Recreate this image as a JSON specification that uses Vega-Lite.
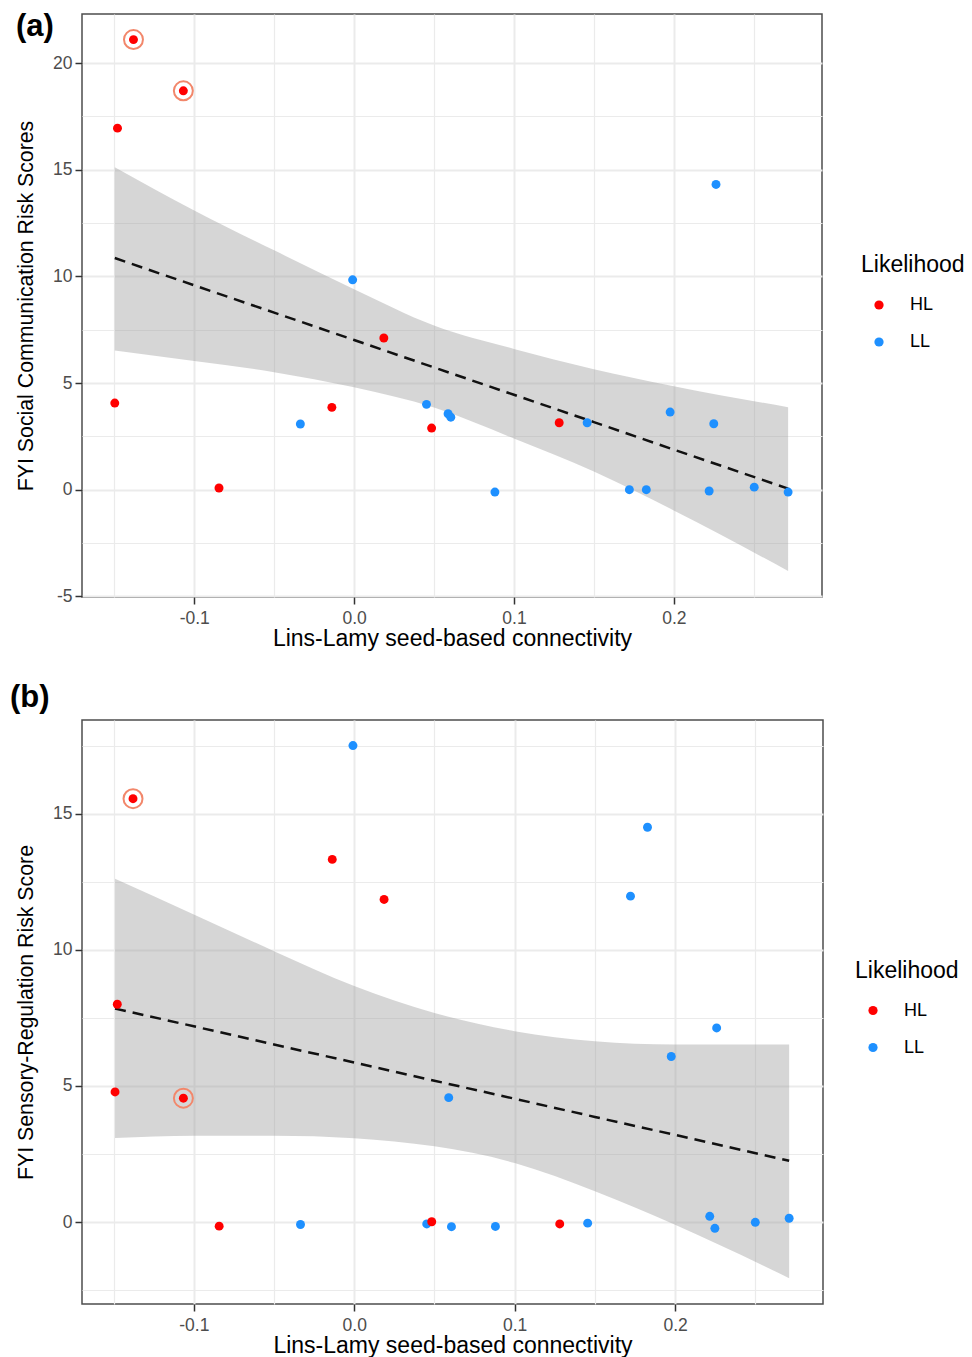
{
  "$schema": "https://vega.github.io/schema/vega-lite/v6.json",
  "padding": {"left": 9, "top": 10, "right": 10, "bottom": 0},
  "spacing": 28,
  "resolve": {"scale": {"color": "independent"}, "legend": {"color": "independent"}},
  "datasets": {
    "ptsA": [
      {"x": -0.0336, "y": 3.08, "g": "LL", "outlier": false},
      {"x": -0.0009, "y": 9.84, "g": "LL", "outlier": false},
      {"x": 0.0453, "y": 4.00, "g": "LL", "outlier": false},
      {"x": 0.0588, "y": 3.56, "g": "LL", "outlier": false},
      {"x": 0.0605, "y": 3.40, "g": "LL", "outlier": false},
      {"x": 0.0881, "y": -0.11, "g": "LL", "outlier": false},
      {"x": 0.1458, "y": 3.14, "g": "LL", "outlier": false},
      {"x": 0.1722, "y": 0.00, "g": "LL", "outlier": false},
      {"x": 0.1828, "y": 0.00, "g": "LL", "outlier": false},
      {"x": 0.1977, "y": 3.64, "g": "LL", "outlier": false},
      {"x": 0.2250, "y": 3.09, "g": "LL", "outlier": false},
      {"x": 0.2221, "y": -0.06, "g": "LL", "outlier": false},
      {"x": 0.2264, "y": 14.31, "g": "LL", "outlier": false},
      {"x": 0.2503, "y": 0.12, "g": "LL", "outlier": false},
      {"x": 0.2715, "y": -0.11, "g": "LL", "outlier": false},
      {"x": -0.1380, "y": 21.10, "g": "HL", "outlier": true},
      {"x": -0.1068, "y": 18.70, "g": "HL", "outlier": true},
      {"x": -0.1480, "y": 16.95, "g": "HL", "outlier": false},
      {"x": -0.1497, "y": 4.06, "g": "HL", "outlier": false},
      {"x": -0.0845, "y": 0.08, "g": "HL", "outlier": false},
      {"x": -0.0139, "y": 3.86, "g": "HL", "outlier": false},
      {"x": 0.0186, "y": 7.11, "g": "HL", "outlier": false},
      {"x": 0.0485, "y": 2.89, "g": "HL", "outlier": false},
      {"x": 0.1283, "y": 3.14, "g": "HL", "outlier": false}
    ],
    "bandA": [
      {"x": -0.1497, "lo": 6.53, "hi": 15.12, "fit": 10.86},
      {"x": -0.1, "lo": 6.03, "hi": 13.09, "fit": 9.58},
      {"x": -0.05, "lo": 5.51, "hi": 11.22, "fit": 8.30},
      {"x": 0.0, "lo": 4.80, "hi": 9.40, "fit": 7.02},
      {"x": 0.05, "lo": 3.85, "hi": 7.70, "fit": 5.73},
      {"x": 0.1, "lo": 2.40, "hi": 6.60, "fit": 4.45},
      {"x": 0.15, "lo": 0.85, "hi": 5.65, "fit": 3.17},
      {"x": 0.2, "lo": -0.97, "hi": 4.85, "fit": 1.88},
      {"x": 0.2715, "lo": -3.81, "hi": 3.87, "fit": 0.05}
    ],
    "ptsB": [
      {"x": -0.0008, "y": 17.50, "g": "LL", "outlier": false},
      {"x": 0.1828, "y": 14.50, "g": "LL", "outlier": false},
      {"x": 0.1722, "y": 11.97, "g": "LL", "outlier": false},
      {"x": 0.2259, "y": 7.13, "g": "LL", "outlier": false},
      {"x": 0.1976, "y": 6.08, "g": "LL", "outlier": false},
      {"x": 0.0589, "y": 4.57, "g": "LL", "outlier": false},
      {"x": -0.0335, "y": -0.09, "g": "LL", "outlier": false},
      {"x": 0.0452, "y": -0.07, "g": "LL", "outlier": false},
      {"x": 0.0606, "y": -0.17, "g": "LL", "outlier": false},
      {"x": 0.0880, "y": -0.16, "g": "LL", "outlier": false},
      {"x": 0.1455, "y": -0.04, "g": "LL", "outlier": false},
      {"x": 0.2216, "y": 0.21, "g": "LL", "outlier": false},
      {"x": 0.2248, "y": -0.23, "g": "LL", "outlier": false},
      {"x": 0.2500, "y": -0.01, "g": "LL", "outlier": false},
      {"x": 0.2711, "y": 0.14, "g": "LL", "outlier": false},
      {"x": -0.1379, "y": 15.55, "g": "HL", "outlier": true},
      {"x": -0.0137, "y": 13.32, "g": "HL", "outlier": false},
      {"x": 0.0186, "y": 11.85, "g": "HL", "outlier": false},
      {"x": -0.1477, "y": 8.00, "g": "HL", "outlier": false},
      {"x": -0.1491, "y": 4.78, "g": "HL", "outlier": false},
      {"x": -0.1065, "y": 4.55, "g": "HL", "outlier": true},
      {"x": -0.0842, "y": -0.15, "g": "HL", "outlier": false},
      {"x": 0.0483, "y": 0.01, "g": "HL", "outlier": false},
      {"x": 0.1281, "y": -0.07, "g": "HL", "outlier": false}
    ],
    "bandB": [
      {"x": -0.1491, "lo": 3.09, "hi": 12.61, "fit": 7.84},
      {"x": -0.1, "lo": 3.17, "hi": 11.30, "fit": 7.19},
      {"x": -0.05, "lo": 3.17, "hi": 9.95, "fit": 6.52},
      {"x": 0.0, "lo": 3.08, "hi": 8.67, "fit": 5.86},
      {"x": 0.05, "lo": 2.78, "hi": 7.68, "fit": 5.19},
      {"x": 0.1, "lo": 2.17, "hi": 7.01, "fit": 4.53},
      {"x": 0.15, "lo": 1.13, "hi": 6.64, "fit": 3.86},
      {"x": 0.2, "lo": -0.10, "hi": 6.52, "fit": 3.20},
      {"x": 0.2711, "lo": -2.06, "hi": 6.52, "fit": 2.25}
    ]
  },
  "config": {
    "font": "Liberation Sans",
    "view": {"stroke": "#4d4d4d", "strokeWidth": 1.5},
    "axis": {
      "domain": false,
      "tickSize": 7,
      "tickWidth": 1.5,
      "tickColor": "#333333",
      "labelFontSize": 17.5,
      "labelColor": "#4D4D4D",
      "labelFont": "Liberation Sans",
      "titleFont": "Liberation Sans",
      "titleFontSize": 23,
      "titleFontWeight": "normal",
      "titleColor": "#000000",
      "labelOverlap": false,
      "gridColor": "#EBEBEB"
    },
    "axisX": {"labelPadding": 5, "titlePadding": 1},
    "axisY": {"labelPadding": 3, "titlePadding": 16, "titleFontSize": 21.3},
    "legend": {
      "orient": "none",
      "titleFontSize": 23,
      "titleFontWeight": "normal",
      "titleColor": "#000000",
      "titleFont": "Liberation Sans",
      "titlePadding": 19,
      "labelFontSize": 18,
      "labelColor": "#000000",
      "labelFont": "Liberation Sans",
      "labelOffset": 22,
      "symbolSize": 85,
      "symbolOffset": 9,
      "rowPadding": 19,
      "padding": 0
    }
  },
  "vconcat": [
    {
      "title": {"text": "(a)", "fontSize": 31, "fontWeight": "bold", "anchor": "start", "frame": "group", "dx": -66, "offset": -53, "baseline": "alphabetic", "color": "#000000", "font": "Liberation Sans"},
      "width": 740,
      "height": 583,
      "encoding": {
        "x": {
          "field": "x", "type": "quantitative",
          "title": "Lins-Lamy seed-based connectivity",
          "scale": {"domain": [-0.1702, 0.2927], "nice": false, "zero": false},
          "axis": {
            "values": [-0.15, -0.1, -0.05, 0, 0.05, 0.1, 0.15, 0.2, 0.25],
            "labelExpr": "abs(datum.value*10 - round(datum.value*10)) < 0.001 ? (datum.value < -0.0001 ? '-' + format(-datum.value, '.1f') : format(abs(datum.value), '.1f')) : ''",
            "tickOpacity": {"condition": {"test": "abs(datum.value*10 - round(datum.value*10)) > 0.001", "value": 0}, "value": 1},
            "gridWidth": {"condition": {"test": "abs(datum.value*10 - round(datum.value*10)) > 0.001", "value": 1.2}, "value": 2}
          }
        }
      },
      "layer": [
        {
          "data": {"name": "bandA"},
          "mark": {"type": "area", "color": "#999999", "opacity": 0.4, "interpolate": "monotone"},
          "encoding": {
            "y": {
              "field": "lo", "type": "quantitative",
              "title": "FYI Social Communication Risk Scores",
              "scale": {"domain": [-5.03, 22.3], "nice": false, "zero": false},
              "axis": {
                "values": [-5, -2.5, 0, 2.5, 5, 7.5, 10, 12.5, 15, 17.5, 20],
                "labelExpr": "abs(datum.value/5 - round(datum.value/5)) < 0.001 ? (datum.value < 0 ? '-' + format(-datum.value, 'd') : format(datum.value, 'd')) : ''",
                "tickOpacity": {"condition": {"test": "abs(datum.value/5 - round(datum.value/5)) > 0.001", "value": 0}, "value": 1},
                "gridWidth": {"condition": {"test": "abs(datum.value/5 - round(datum.value/5)) > 0.001", "value": 1.2}, "value": 2}
              }
            },
            "y2": {"field": "hi"}
          }
        },
        {
          "data": {"name": "bandA"},
          "mark": {"type": "line", "color": "#111111", "strokeDash": [11, 7], "strokeWidth": 2.5},
          "encoding": {
            "y": {"field": "fit", "type": "quantitative", "title": "FYI Social Communication Risk Scores", "scale": {"domain": [-5.03, 22.3], "nice": false, "zero": false}}
          }
        },
        {
          "data": {"name": "ptsA"},
          "mark": {"type": "point", "filled": true, "size": 80, "opacity": 1},
          "encoding": {
            "y": {"field": "y", "type": "quantitative", "title": "FYI Social Communication Risk Scores", "scale": {"domain": [-5.03, 22.3], "nice": false, "zero": false}},
            "color": {
              "field": "g", "type": "nominal",
              "scale": {"domain": ["HL", "LL"], "range": ["#FF0000", "#1E90FF"]},
              "legend": {"title": "Likelihood", "legendX": 779, "legendY": 240}
            }
          }
        },
        {
          "data": {"name": "ptsA"},
          "transform": [{"filter": "datum.outlier"}],
          "mark": {"type": "point", "filled": false, "size": 360, "stroke": "#F2876B", "strokeWidth": 2, "opacity": 1},
          "encoding": {
            "y": {"field": "y", "type": "quantitative", "title": "FYI Social Communication Risk Scores", "scale": {"domain": [-5.03, 22.3], "nice": false, "zero": false}}
          }
        }
      ]
    },
    {
      "title": {"text": "(b)", "fontSize": 31, "fontWeight": "bold", "anchor": "start", "frame": "group", "dx": -72, "offset": -17.7, "baseline": "alphabetic", "color": "#000000", "font": "Liberation Sans"},
      "width": 741,
      "height": 584,
      "encoding": {
        "x": {
          "field": "x", "type": "quantitative",
          "title": "Lins-Lamy seed-based connectivity",
          "scale": {"domain": [-0.1697, 0.2922], "nice": false, "zero": false},
          "axis": {
            "values": [-0.15, -0.1, -0.05, 0, 0.05, 0.1, 0.15, 0.2, 0.25],
            "labelExpr": "abs(datum.value*10 - round(datum.value*10)) < 0.001 ? (datum.value < -0.0001 ? '-' + format(-datum.value, '.1f') : format(abs(datum.value), '.1f')) : ''",
            "tickOpacity": {"condition": {"test": "abs(datum.value*10 - round(datum.value*10)) > 0.001", "value": 0}, "value": 1},
            "gridWidth": {"condition": {"test": "abs(datum.value*10 - round(datum.value*10)) > 0.001", "value": 1.2}, "value": 2}
          }
        }
      },
      "layer": [
        {
          "data": {"name": "bandB"},
          "mark": {"type": "area", "color": "#999999", "opacity": 0.4, "interpolate": "monotone"},
          "encoding": {
            "y": {
              "field": "lo", "type": "quantitative",
              "title": "FYI Sensory-Regulation Risk Score",
              "scale": {"domain": [-3.01, 18.44], "nice": false, "zero": false},
              "axis": {
                "values": [-2.5, 0, 2.5, 5, 7.5, 10, 12.5, 15, 17.5],
                "labelExpr": "abs(datum.value/5 - round(datum.value/5)) < 0.001 ? (datum.value < 0 ? '-' + format(-datum.value, 'd') : format(datum.value, 'd')) : ''",
                "tickOpacity": {"condition": {"test": "abs(datum.value/5 - round(datum.value/5)) > 0.001", "value": 0}, "value": 1},
                "gridWidth": {"condition": {"test": "abs(datum.value/5 - round(datum.value/5)) > 0.001", "value": 1.2}, "value": 2}
              }
            },
            "y2": {"field": "hi"}
          }
        },
        {
          "data": {"name": "bandB"},
          "mark": {"type": "line", "color": "#111111", "strokeDash": [11, 7], "strokeWidth": 2.5},
          "encoding": {
            "y": {"field": "fit", "type": "quantitative", "title": "FYI Sensory-Regulation Risk Score", "scale": {"domain": [-3.01, 18.44], "nice": false, "zero": false}}
          }
        },
        {
          "data": {"name": "ptsB"},
          "mark": {"type": "point", "filled": true, "size": 80, "opacity": 1},
          "encoding": {
            "y": {"field": "y", "type": "quantitative", "title": "FYI Sensory-Regulation Risk Score", "scale": {"domain": [-3.01, 18.44], "nice": false, "zero": false}},
            "color": {
              "field": "g", "type": "nominal",
              "scale": {"domain": ["HL", "LL"], "range": ["#FF0000", "#1E90FF"]},
              "legend": {"title": "Likelihood", "legendX": 773, "legendY": 239.5}
            }
          }
        },
        {
          "data": {"name": "ptsB"},
          "transform": [{"filter": "datum.outlier"}],
          "mark": {"type": "point", "filled": false, "size": 360, "stroke": "#F2876B", "strokeWidth": 2, "opacity": 1},
          "encoding": {
            "y": {"field": "y", "type": "quantitative", "title": "FYI Sensory-Regulation Risk Score", "scale": {"domain": [-3.01, 18.44], "nice": false, "zero": false}}
          }
        }
      ]
    }
  ]
}
